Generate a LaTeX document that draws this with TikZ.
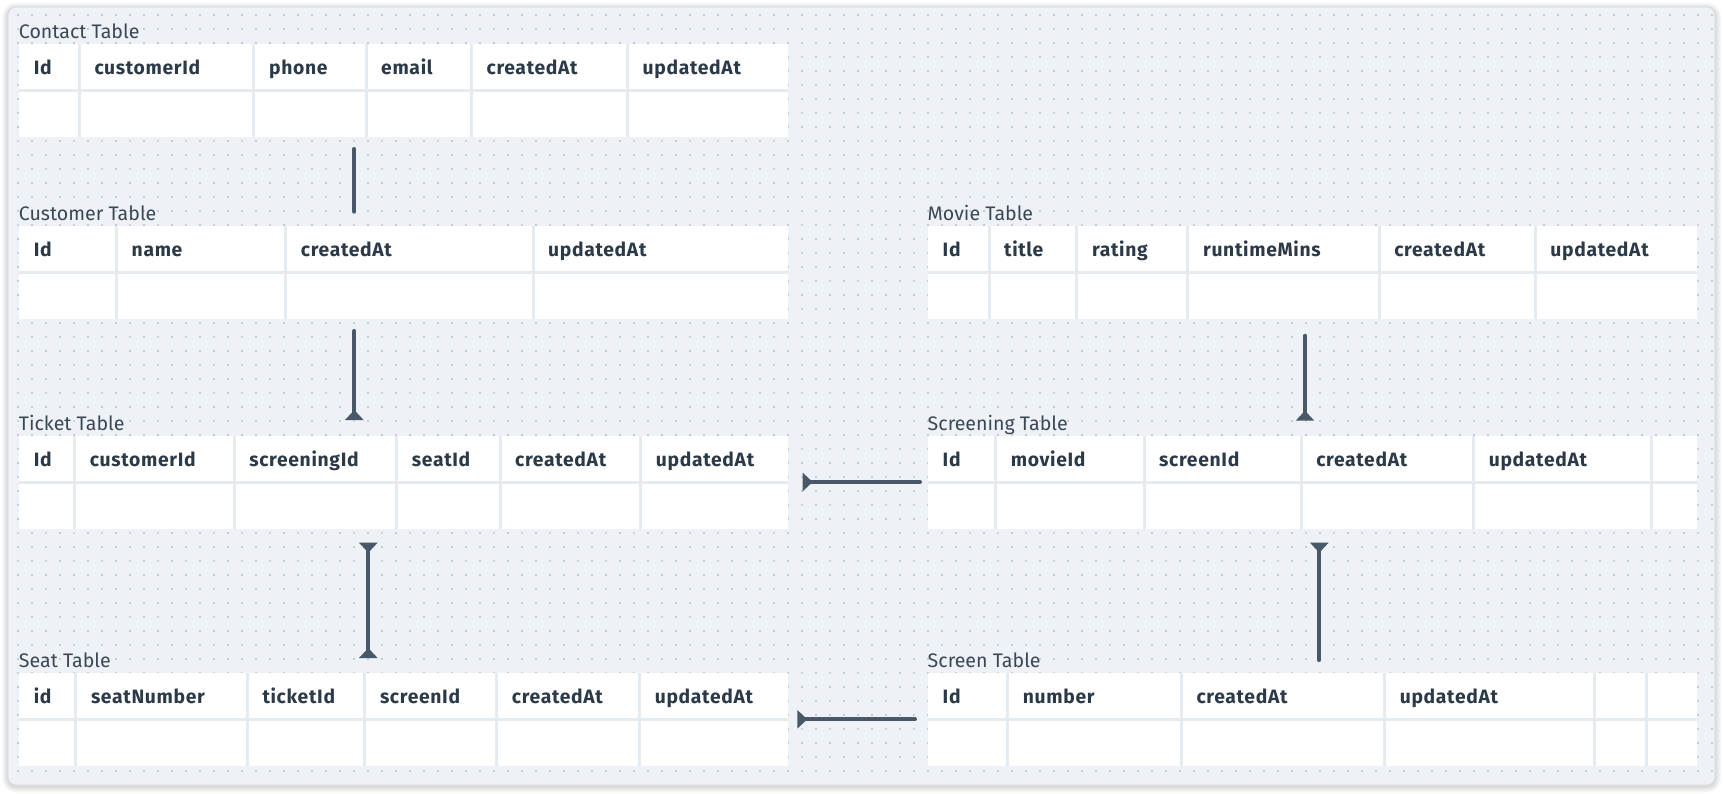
\documentclass[tikz,border=0pt]{standalone}
\usepackage{fontspec}
\setmainfont{Fira Sans}
\newfontfamily\headfont{Fira Sans}[LetterSpace=3.5]
\usetikzlibrary{arrows.meta}
\definecolor{panelbg}{HTML}{EEF2F6}
\definecolor{panelborder}{HTML}{D6DBE1}
\definecolor{dotc}{HTML}{C3CBD5}
\definecolor{dotb}{HTML}{CDD4E0}
\definecolor{sepc}{HTML}{E6EBF0}
\definecolor{headc}{HTML}{2C3A48}
\definecolor{labc}{HTML}{3A4755}
\definecolor{linkc}{HTML}{485868}
\tikzset{
  tablebox/.style={rectangle, fill=white, draw=none, inner sep=0pt, outer sep=0pt, anchor=north west},
  tlabel/.style={inner sep=0pt, anchor=base west, text=labc, font=\fontsize{19.6}{19.6}\selectfont},
  thead/.style={inner sep=0pt, anchor=base west, text=headc, font=\headfont\fontsize{19.3}{19.3}\selectfont\bfseries},
  sepline/.style={draw=sepc, line width=3pt},
  link/.style={draw=linkc, line width=4pt, line cap=round},
  erfoot/.tip={Triangle[reversed, width=18pt, length=10pt]}
}
% #1 name, #2 x-left, #3 x-right, #4 top, #5 label, #6 list of colx/header
\newcommand\erdtable[6]{%
  \node[tablebox, minimum width=#3-#2, minimum height=93] (#1) at (#2,#4) {};
  \node[tlabel] (#1-label) at (#2,#4-5.5) {#5};
  \draw[sepline] (#2,#4+46.5) -- (#3,#4+46.5);
  \foreach \a/\t [count=\i] in {#6} {
    \ifnum\i>1 \draw[sepline] (\a,#4) -- (\a,#4+93);\fi
    \node[thead] (#1-h\i) at (\a+15,#4+30.5) {\t};
  }
}
\begin{document}
\begin{tikzpicture}[x=1pt,y=-1pt]
\useasboundingbox (0,0) rectangle (1723,793);
\fill[white] (0,0) rectangle (1723,793);
% shadow
\foreach \k in {1,...,6} {
  \fill[black, opacity=0.025, rounded corners=8+\k] (8-\k,7-\k+1.5) rectangle (1715+\k,785+\k+1.5);
}
\filldraw[fill=panelbg, draw=panelborder, line width=0.8pt, rounded corners=8] (8,7) rectangle (1715,785);
% dot grid
\foreach \k in {0,...,54} {
  \draw[dotc, line width=1.2pt, dash pattern=on 1.2pt off 12.8pt] (17.4,15+14*\k) -- (1713,15+14*\k);
}
\foreach \k in {0,...,26} {
  \draw[dotb, line width=2.2pt, dash pattern=on 2.2pt off 25.8pt] (16.9,29+28*\k) -- (1713,29+28*\k);
}
% tables
\erdtable{contact}{18.7}{787.9}{43.5}{Contact Table}{18.7/Id,79.3/customerId,253.9/phone,366/email,471.4/createdAt,627.5/updatedAt}
\erdtable{customer}{18.7}{787.9}{226}{Customer Table}{18.7/Id,116.5/name,285.7/createdAt,533/updatedAt}
\erdtable{ticket}{18.7}{787.9}{436}{Ticket Table}{18.7/Id,74.7/customerId,234.1/screeningId,396.7/seatId,500/createdAt,640.7/updatedAt}
\erdtable{seat}{18.7}{787.9}{673.3}{Seat Table}{18.7/id,75.8/seatNumber,247.3/ticketId,364.8/screenId,496.7/createdAt,639.6/updatedAt}
\erdtable{movie}{927.5}{1696.7}{226}{Movie Table}{927.5/Id,989/title,1076.9/rating,1187.9/runtimeMins,1379.1/createdAt,1535.2/updatedAt}
\erdtable{screening}{927.5}{1696.7}{436}{Screening Table}{927.5/Id,995.6/movieId,1144/screenId,1301.1/createdAt,1473.6/updatedAt,1651.8/{}}
\erdtable{screen}{927.5}{1696.7}{673.3}{Screen Table}{927.5/Id,1007.7/number,1181.3/createdAt,1384.6/updatedAt,1594.5/{},1646.3/{}}
% connector ends
\coordinate (c1a) at (354.3,149);   \coordinate (c1b) at (354.3,211.7);
\coordinate (c2a) at (354.3,331);   \coordinate (c2b) at (354.3,420);
\coordinate (c3a) at (1305,335.7);  \coordinate (c3b) at (1305,420.7);
\coordinate (c4a) at (920,482);     \coordinate (c4b) at (802.7,482);
\coordinate (c5a) at (368.3,542.7); \coordinate (c5b) at (368.3,658);
\coordinate (c6a) at (1319.3,660);  \coordinate (c6b) at (1319.3,542.7);
\coordinate (c7a) at (915,719.3);   \coordinate (c7b) at (797.3,719.3);
% connectors
\draw[link] (c1a) -- (c1b);
\draw[link, -{erfoot}] (c2a) -- (c2b);
\draw[link, -{erfoot}] (c3a) -- (c3b);
\draw[link, -{erfoot}] (c4a) -- (c4b);
\draw[link, {erfoot}-{erfoot}] (c5a) -- (c5b);
\draw[link, -{erfoot}] (c6a) -- (c6b);
\draw[link, -{erfoot}] (c7a) -- (c7b);
\end{tikzpicture}
\end{document}
